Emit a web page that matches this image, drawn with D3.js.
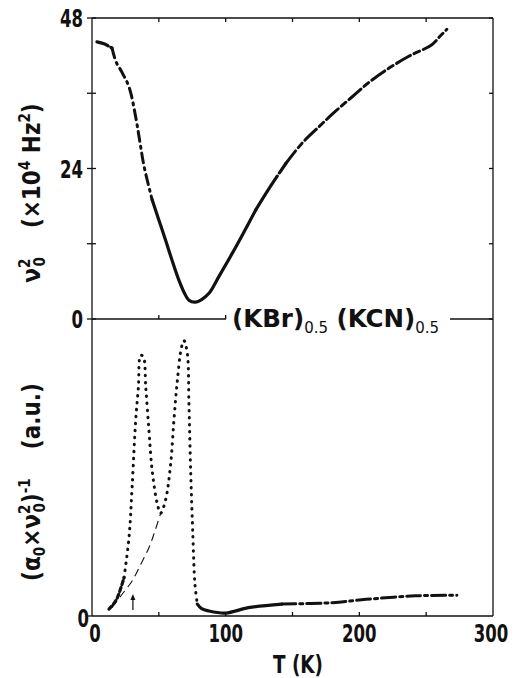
<!DOCTYPE html>
<html>
<head>
<meta charset="utf-8">
<script src="https://cdn.jsdelivr.net/npm/d3@7"></script>
<style>
  body { margin: 0; background: #fff; }
  svg text { font-family: "Liberation Sans Narrow", "DejaVu Sans Condensed", sans-serif; font-weight: bold; fill: #111; }
  svg text.title { font-family: "DejaVu Sans", sans-serif; }
</style>
</head>
<body>
<script>
// top panel: nu0^2 (x10^4 Hz^2) vs T
var topT = [3.7, 9, 15, 18, 22, 27.7, 32.7, 36, 39, 45, 50, 55, 60, 65, 69, 72.5, 77.5, 82, 87.5, 95, 105, 113, 122.5, 133, 145, 157, 170, 182, 194.5, 207, 220, 237, 254, 260, 265.5]
var topV = [44.2, 43.9, 43.2, 41, 39.5, 37, 32.2, 28, 24.3, 19, 15.8, 12.6, 9.3, 6.2, 4.2, 3.0, 2.7, 3.1, 4.1, 6.8, 10.5, 13.6, 17.4, 21, 24.8, 28, 30.7, 33.1, 35.4, 37.7, 39.7, 41.9, 43.7, 45, 46.2]

// bottom panel: (a0 x nu0^2)^-1 (a.u.) vs T
var botT = [12.7, 16, 19, 24, 27.7, 30, 32.7, 34.7, 36.4, 38.4, 40.2, 42.6, 45, 48.9, 51.3, 55, 58.8, 61.3, 63.8, 67, 68.8, 71.3, 72.5, 73.8, 75.5, 77, 78.8, 82, 87.5, 100, 117, 142, 180, 205, 242, 273]
var botV = [0.23, 0.4, 0.62, 1.3, 2.65, 4.33, 6.6, 7.7, 8.78, 8.73, 7.7, 6.25, 4.9, 3.77, 3.46, 3.9, 5.1, 6.6, 7.9, 9.06, 9.27, 8.84, 7.15, 4.9, 2.65, 1.07, 0.4, 0.25, 0.17, 0.1, 0.28, 0.4, 0.45, 0.56, 0.68, 0.7]

// thin dashed background line
var dashT = [15, 22, 30, 36, 42.6, 47, 51.3]
var dashV = [0.28, 0.7, 1.18, 1.7, 2.3, 2.85, 3.45]

var xTicks = [0, 50, 100, 150, 200, 250, 300]
var xLabels = [0, 100, 200, 300]
var yTopTicks = [0, 12, 24, 36, 48]
var yTopLabels = [0, 24, 48]

var W = 515, H = 678
var leftX = 92, rightX = 493, topY = 18, midY = 319, botY = 616

var x = d3.scaleLinear().domain([0, 300]).range([leftX, rightX])
var yTop = d3.scaleLinear().domain([0, 48]).range([midY, topY])
var yBot = d3.scaleLinear().domain([0, 10]).range([botY, midY])

var svg = d3.select('body').append('svg')
  .attr('width', W).attr('height', H)

var ink = '#111'

// frames
var frame = svg.append('g').attr('fill', 'none').attr('stroke', ink).attr('stroke-width', 1.3)
frame.append('line').attr('x1', leftX).attr('x2', rightX).attr('y1', topY).attr('y2', topY)
frame.append('line').attr('x1', leftX).attr('x2', leftX).attr('y1', topY).attr('y2', botY)
frame.append('line').attr('x1', rightX).attr('x2', rightX).attr('y1', topY).attr('y2', botY)
frame.append('line').attr('x1', leftX).attr('x2', rightX).attr('y1', botY).attr('y2', botY)
frame.append('line').attr('x1', leftX).attr('x2', 226).attr('y1', midY).attr('y2', midY)
frame.append('line').attr('x1', 450).attr('x2', rightX).attr('y1', midY).attr('y2', midY)

// x ticks (inside) on bottom axis, divider and top
xTicks.slice(1, -1).forEach(function (t) {
  frame.append('line').attr('x1', x(t)).attr('x2', x(t)).attr('y1', botY).attr('y2', botY - 4)
  frame.append('line').attr('x1', x(t)).attr('x2', x(t)).attr('y1', topY).attr('y2', topY + 4)
  if (x(t) < 226) frame.append('line').attr('x1', x(t)).attr('x2', x(t)).attr('y1', midY).attr('y2', midY - 4)
})

// y ticks top panel
yTopTicks.forEach(function (v) {
  frame.append('line').attr('x1', leftX - 5).attr('x2', leftX + 4).attr('y1', yTop(v)).attr('y2', yTop(v))
  frame.append('line').attr('x1', rightX).attr('x2', rightX - 4).attr('y1', yTop(v)).attr('y2', yTop(v))
})
frame.append('line').attr('x1', leftX - 5).attr('x2', leftX).attr('y1', botY).attr('y2', botY)

// narrow digits like the original lettering
function digitLen(d) { return String(d).length * 11.5 }

// tick labels
svg.selectAll('.xl').data(xLabels).enter().append('text')
  .attr('x', function (d) { return x(d) + (d == 0 ? 3 : d == 300 ? -2 : 0) })
  .attr('y', 642)
  .attr('text-anchor', 'middle')
  .attr('font-size', 24)
  .attr('textLength', digitLen)
  .attr('lengthAdjust', 'spacingAndGlyphs')
  .text(function (d) { return d })

svg.selectAll('.yl').data(yTopLabels).enter().append('text')
  .attr('x', leftX - 9)
  .attr('y', function (d) { return yTop(d) + 9 })
  .attr('text-anchor', 'end')
  .attr('font-size', 24)
  .attr('textLength', digitLen)
  .attr('lengthAdjust', 'spacingAndGlyphs')
  .text(function (d) { return d })

svg.append('text').attr('x', leftX - 3).attr('y', botY + 11)
  .attr('text-anchor', 'end').attr('font-size', 24)
  .attr('textLength', 11.5).attr('lengthAdjust', 'spacingAndGlyphs').text('0')

// axis titles
svg.append('text').attr('x', 298).attr('y', 673)
  .attr('text-anchor', 'middle').attr('font-size', 25)
  .attr('textLength', 50).attr('lengthAdjust', 'spacingAndGlyphs')
  .text('T (K)')

var ty = svg.append('text')
  .attr('transform', 'translate(40,193) rotate(-90)')
  .attr('text-anchor', 'middle').attr('font-size', 24)
ty.append('tspan').text('ν')
ty.append('tspan').attr('font-size', 15).attr('dy', -10).text('2')
ty.append('tspan').attr('font-size', 15).attr('dx', -8).attr('dy', 15).text('0')
ty.append('tspan').attr('dy', -5).text('\u2003 (×10')
ty.append('tspan').attr('font-size', 15).attr('dy', -10).text('4')
ty.append('tspan').attr('dy', 10).text(' Hz')
ty.append('tspan').attr('font-size', 15).attr('dy', -10).text('2')
ty.append('tspan').attr('dy', 10).text(')')

var by = svg.append('text')
  .attr('transform', 'translate(40,482) rotate(-90)')
  .attr('text-anchor', 'middle').attr('font-size', 24)
by.append('tspan').text('(α')
by.append('tspan').attr('font-size', 15).attr('dy', 5).text('0')
by.append('tspan').attr('dy', -5).text('×ν')
by.append('tspan').attr('font-size', 15).attr('dy', -10).text('2')
by.append('tspan').attr('font-size', 15).attr('dx', -8).attr('dy', 15).text('0')
by.append('tspan').attr('dy', -5).text(')')
by.append('tspan').attr('font-size', 15).attr('dy', -10).text('-1')
by.append('tspan').attr('dy', 10).text('\u2003 (a.u.)')

// compound title
var tt = svg.append('text').attr('class', 'title').attr('x', 232).attr('y', 327).attr('font-size', 24.5)
tt.append('tspan').text('(KBr)')
tt.append('tspan').attr('font-size', 15).attr('dy', 6).attr('font-weight', 'normal').text('0.5')
tt.append('tspan').attr('dy', -6).text(' (KCN)')
tt.append('tspan').attr('font-size', 15).attr('dy', 6).attr('font-weight', 'normal').text('0.5')

// curves
function pts(ts, vs, ys, lo, hi) {
  var out = []
  ts.forEach(function (t, i) { if (t >= lo && t <= hi) out.push([x(t), ys(vs[i])]) })
  return out
}
var line = d3.line().curve(d3.curveCatmullRom.alpha(0.5))

function draw(p, width, dash) {
  svg.append('path').attr('d', line(p))
    .attr('fill', 'none').attr('stroke', ink)
    .attr('stroke-width', width)
    .attr('stroke-linecap', 'round')
    .attr('stroke-dasharray', dash)
}

// top curve
draw(pts(topT, topV, yTop, 0, 15), 3.2, '12,3')
draw(pts(topT, topV, yTop, 15, 45), 3, '10,5,2,5')
draw(pts(topT, topV, yTop, 45, 122.5), 3.2, null)
draw(pts(topT, topV, yTop, 122.5, 150), 3.2, '40,4')
draw(pts(topT, topV, yTop, 145, 266), 3, '16,4,6,4')

// bottom curve
draw(pts(botT, botV, yBot, 12, 24), 3.2, '4,3')
draw(pts(botT, botV, yBot, 24, 78.8), 3, '0.5,6.5')
draw(pts(botT, botV, yBot, 78.8, 142), 3.2, null)
draw(pts(botT, botV, yBot, 142, 273), 3, '14,4,3,4')

// thin dashed line
svg.append('path').attr('d', line(pts(dashT, dashV, yBot, 0, 100)))
  .attr('fill', 'none').attr('stroke', ink).attr('stroke-width', 1.1)
  .attr('stroke-dasharray', '8,5')

// arrow marking transition
var ax = x(30.6)
svg.append('line').attr('x1', ax).attr('x2', ax).attr('y1', 610).attr('y2', 597)
  .attr('stroke', ink).attr('stroke-width', 1.2)
svg.append('path').attr('d', 'M' + (ax - 2.5) + ',600L' + ax + ',594L' + (ax + 2.5) + ',600Z')
  .attr('fill', ink)
</script>
</body>
</html>
